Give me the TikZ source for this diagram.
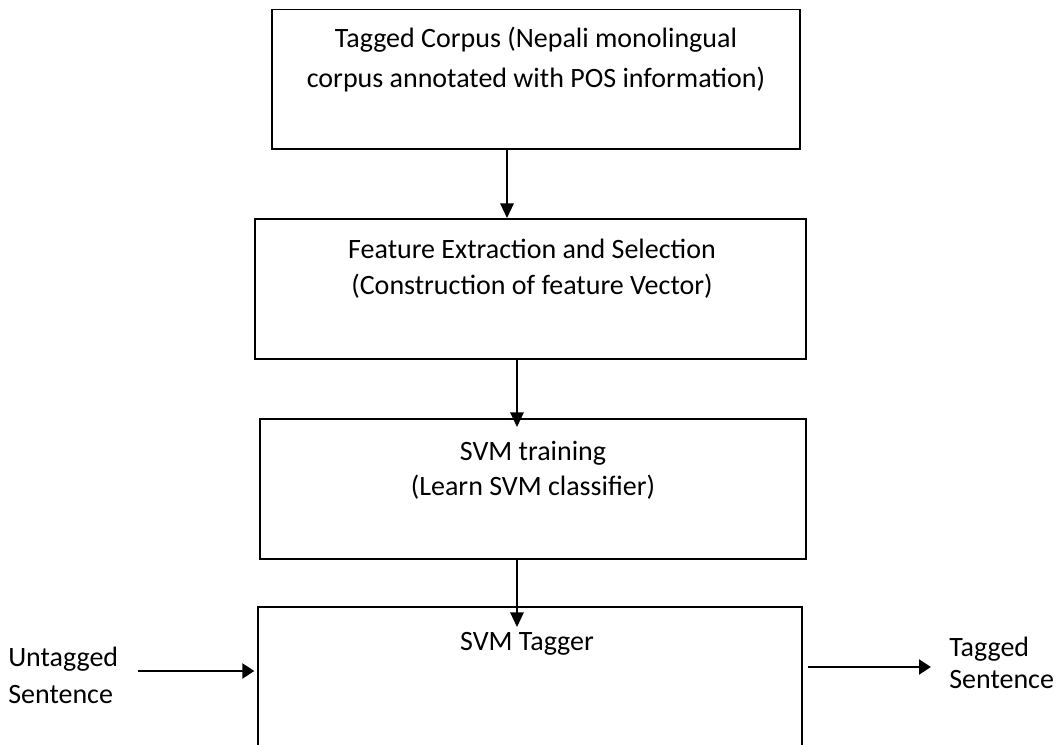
\documentclass[tikz,border=0pt]{standalone}
\usepackage{fontspec}
\setmainfont{Carlito}
\usetikzlibrary{arrows.meta}
\tikzset{
  boxnode/.style={draw=black, line width=1.4pt, rectangle, inner sep=0pt},
  lbl/.style={font=\fontsize{21}{25}\selectfont, inner sep=0pt, anchor=base},
  lbll/.style={font=\fontsize{21}{25}\selectfont, inner sep=0pt, anchor=base west},
  flow/.style={line width=1.5pt, -{Triangle[length=11pt,width=10pt]}},
  side/.style={line width=2.2pt, -{Triangle[length=9pt,width=11pt]}}
}
\begin{document}
\begin{tikzpicture}[x=0.75pt,y=-0.75pt]
\useasboundingbox (0,0) rectangle (1064,745);
\clip (0,0) rectangle (1064,745);
\fill[white] (0,0) rectangle (1064,745);

% boxes
\node[boxnode, minimum width=396pt, minimum height=104.6pt] (b1) at (536,79.25) {};
\node[boxnode, minimum width=413.25pt, minimum height=105pt] (b2) at (530.5,289) {};
\node[boxnode, minimum width=409.5pt, minimum height=105pt] (b3) at (533,489) {};
\node[boxnode, minimum width=408pt, minimum height=122.25pt] (b4) at (530,688.5) {};

% texts
\node[lbl] (t1a) at (536,48) {Tagged Corpus (Nepali monolingual};
\node[lbl] (t1b) at (536,88) {corpus annotated with POS information)};
\node[lbl] (t2a) at (532,259) {Feature Extraction and Selection};
\node[lbl] (t2b) at (532,295) {(Construction of feature Vector)};
\node[lbl] (t3a) at (533,460) {SVM training};
\node[lbl] (t3b) at (533,495) {(Learn SVM classifier)};
\node[lbl] (t4) at (527,650) {SVM Tagger};
\node[lbll] (ua) at (8,666) {Untagged};
\node[lbll] (ub) at (8,703) {Sentence};
\node[lbll] (ta) at (949,656) {Tagged};
\node[lbll] (tb) at (949,688) {Sentence};

% connector x positions
\coordinate (a1) at (507,0);
\coordinate (a2) at (517,0);
\coordinate (a3) at (517,0);
\coordinate (la) at (138,671);
\coordinate (ra) at (931,667);

\draw[flow] (b1.south -| a1) -- (b2.north -| a1);
\draw[flow] (b2.south -| a2) -- ([yshift=-6.75pt]b3.north -| a2);
\draw[flow] (b3.south -| a3) -- ([yshift=-15.75pt]b4.north -| a3);
\draw[side, shorten >=2pt] (la) -- (la -| b4.west);
\draw[side, shorten <=4pt] (ra -| b4.east) -- (ra);
\end{tikzpicture}
\end{document}
